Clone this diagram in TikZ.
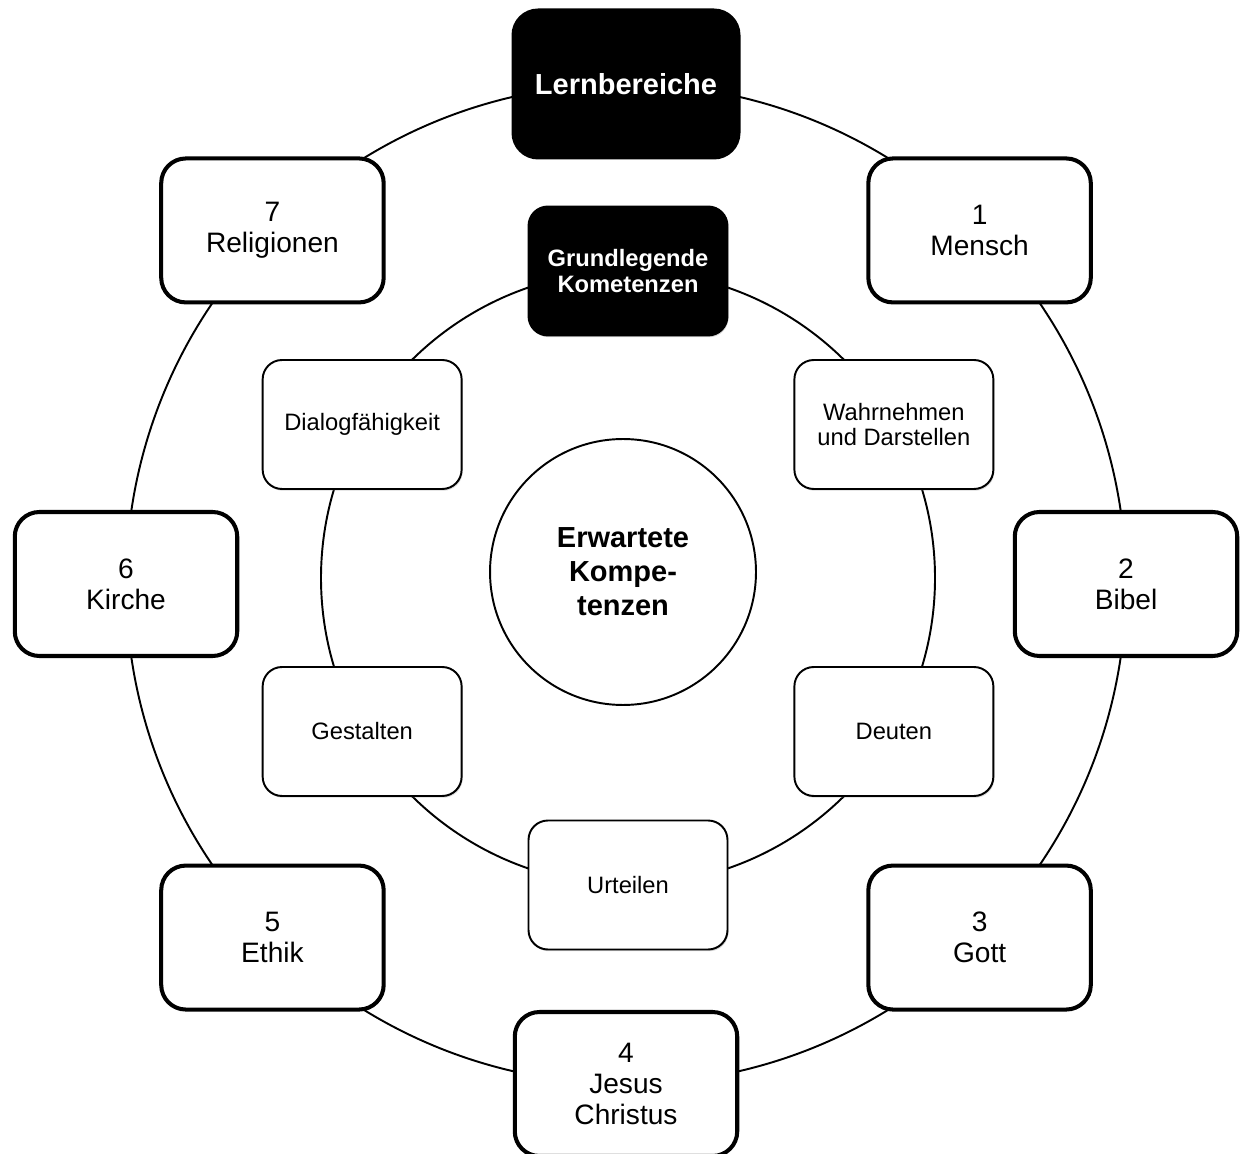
\documentclass[tikz,border=0pt]{standalone}
\usepackage{fontspec}
\setmainfont{Liberation Sans}
\tikzstyle{ring}=[line width=1.1pt]
\tikzstyle{bereich}=[draw,line width=2.3pt,fill=white,rounded corners=14pt,minimum width=4.45cm,minimum height=2.88cm,align=center,font=\fontsize{16}{17.6}\selectfont]
\tikzstyle{kompetenz}=[draw,line width=1.1pt,fill=white,rounded corners=11pt,minimum width=3.98cm,minimum height=2.58cm,align=center,font=\fontsize{13.5}{14.6}\selectfont,drop shadow={shadow xshift=0.6pt,shadow yshift=-1pt,opacity=0.3}]
\tikzstyle{titel}=[fill=black,draw=black,text=white,font=\bfseries\fontsize{16.5}{18}\selectfont]
\usetikzlibrary{calc,positioning,shadows}
\newcommand{\placering}[4]{
	\foreach \a/\n/\txt in {#4}{
		\node[#1] (\n) at ($(#2)+(\a:#3)$) {\txt};
	}
}

\begin{document}
\begin{tikzpicture}[x=0.02cm,y=0.02cm]
\useasboundingbox (0,0) rectangle (1246,1153);
\coordinate (mid) at (626,569);
\coordinate (imid) at (628,575);

\draw[ring] (mid) circle[radius=500];
\draw[ring] (imid) circle[radius=307];

\placering{bereich}{mid}{500}{45/1/{1\\Mensch},0/2/{2\\Bibel},-45/3/{3\\Gott},-90/4/{4\\Jesus\\Christus},-135/5/{5\\Ethik},180/6/{6\\Kirche},135/7/{7\\Religionen}}
\node[bereich,titel,minimum width=4.5cm,minimum height=2.94cm] (lb) at ($(mid)+(90:500)$) {Lernbereiche};

\placering{kompetenz}{imid}{307}{30/wd/{Wahrnehmen\\und Darstellen},-30/de/Deuten,-90/ur/Urteilen,-150/ge/Gestalten,150/di/Dialogfähigkeit}
\node[kompetenz,titel,font=\bfseries\fontsize{13.5}{14.4}\selectfont] (gk) at ($(imid)+(90:307)$) {Grundlegende\\Kometenzen};

\node[circle,draw,line width=1.1pt,minimum size=5.32cm,align=center,font=\bfseries\fontsize{16.5}{19.3}\selectfont] (ek) at (623,581) {Erwartete\\Kompe-\\tenzen};
\end{tikzpicture}
\end{document}
